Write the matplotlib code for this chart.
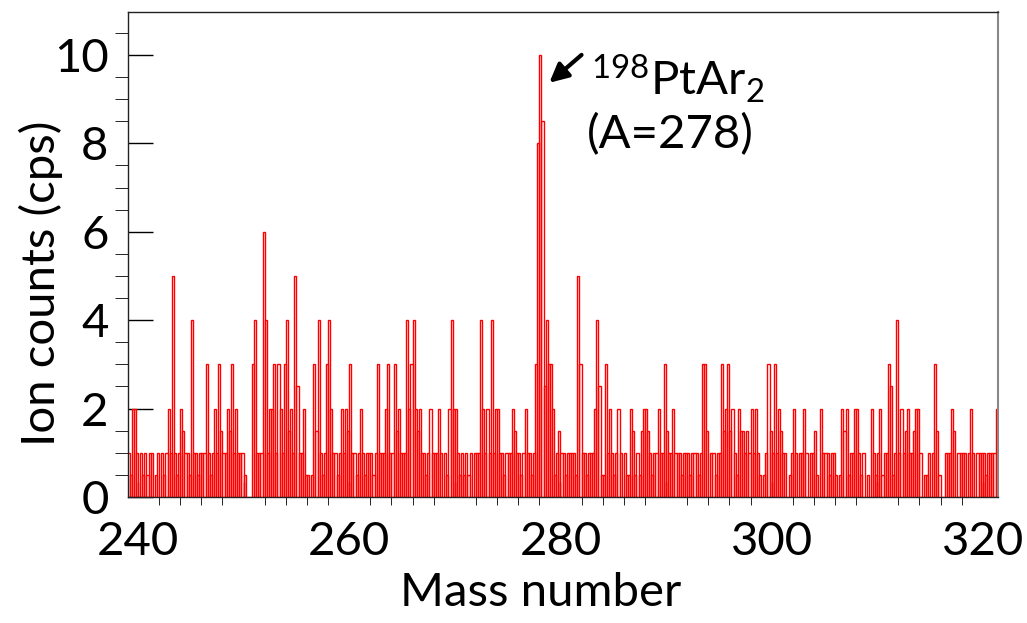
import numpy as np
import matplotlib
matplotlib.use("Agg")
import matplotlib.pyplot as plt
from matplotlib.ticker import MultipleLocator

plt.rcParams['font.family'] = ['Lato', 'DejaVu Sans']
plt.rcParams['mathtext.fontset'] = 'custom'
plt.rcParams['mathtext.rm'] = 'Lato'
plt.rcParams['mathtext.it'] = 'Lato:italic'
plt.rcParams['mathtext.bf'] = 'Lato:bold'

# ion counts (cps) in 0.2 mass-unit bins, first bin starts at 239.0
# one row = one mass unit (5 bins)
bin_width = 0.2
first_edge = 239.0

cps_239_259 = [
    1, 0.5, 2, 2, 1,        # 239
    0, 1, 0.5, 1, 0.5,      # 240
    1, 1, 0, 0.5, 1,        # 241
    0, 1, 0.5, 1, 2,        # 242
    1, 5, 1, 0.5, 1,        # 243
    2, 1.5, 1, 1, 0.5,      # 244
    4, 1, 1, 0.5, 1,        # 245
    1, 1, 3, 1, 0.5,        # 246
    1, 2, 1, 3, 1.5,        # 247
    1, 1, 2, 1.5, 3,        # 248
    1, 2, 1, 1, 1,          # 249
    0.5, 0, 0, 0, 3,        # 250
    4, 1, 1, 1, 6,          # 251
    4, 1, 2, 2, 3,          # 252
    1, 3, 2, 1, 3,          # 253
    4, 1.5, 2, 1, 5,        # 254
    2.5, 1, 1, 2, 0.5,      # 255
    0.5, 0, 0.5, 3, 1.5,    # 256
    4, 1, 0.5, 1, 3,        # 257
    4, 2, 1, 1, 0.5,        # 258
]
cps_259_279 = [
    1, 2, 1, 2, 1.5,        # 259
    3, 1, 1, 0.5, 1,        # 260
    2, 1, 0.5, 1, 1,        # 261
    1, 0.5, 1, 3, 1,        # 262
    1, 1, 2, 3, 1,          # 263
    1, 3, 1.5, 2, 1,        # 264
    1, 1, 4, 2, 3,          # 265
    4, 2, 1.5, 2, 1,        # 266
    1, 0.5, 1, 2, 1,        # 267
    1, 1, 2, 1, 0,          # 268
    1, 0.5, 2, 4, 2,        # 269
    2, 1, 0.5, 1, 0.5,      # 270
    1, 0.5, 1, 0, 1,        # 271
    1, 1, 4, 2, 1,          # 272
    2, 1, 4, 1, 2,          # 273
    2, 1, 1, 0.5, 1,        # 274
    1, 1, 2, 1.5, 1,        # 275
    1, 0.5, 1, 2, 1,        # 276
    1, 0.5, 1, 3, 8,        # 277
    10, 8.5, 2.5, 4, 3,     # 278
]
cps_279_299 = [
    3, 2, 0.5, 1, 1.5,      # 279
    1, 1, 0.5, 1, 1,        # 280
    1, 1, 0.5, 5, 3,        # 281
    1, 1, 0.5, 1, 1,        # 282
    1, 2, 4, 2.5, 0.5,      # 283
    0.5, 3, 1, 2, 1,        # 284
    0.5, 1, 2, 1, 0,        # 285
    1, 0.5, 0.5, 2, 1.5,    # 286
    0.5, 1, 0.5, 1.5, 2,    # 287
    2, 1.5, 1, 0.5, 1,      # 288
    1, 2, 1, 1, 3,          # 289
    1.5, 1, 1, 2, 1,        # 290
    1, 1, 0.5, 1, 1,        # 291
    1, 0.5, 1, 1, 1,        # 292
    0.5, 1, 3, 3, 1.5,      # 293
    0, 1, 1, 0.5, 1,        # 294
    1, 3, 1.5, 2, 3,        # 295
    1.5, 2, 1, 0.5, 2,      # 296
    1.5, 1.5, 1, 1.5, 1,    # 297
    2, 1, 2, 1, 0.5,        # 298
]
cps_299_321 = [
    0, 0.5, 1, 3, 1.5,      # 299
    1, 3, 1, 2, 1.5,        # 300
    1, 1, 0, 0.5, 1,        # 301
    2, 1, 0, 1, 1,          # 302
    2, 1, 0, 1, 1,          # 303
    1.5, 0.5, 0, 2, 1,      # 304
    1, 1, 0.5, 1, 1,        # 305
    0.5, 0, 0.5, 2, 1.5,    # 306
    2, 0.5, 1, 1, 2,        # 307
    2, 1, 0.5, 1, 0,        # 308
    0.5, 0, 2, 1, 0.5,      # 309
    1, 2, 0.5, 1, 1,        # 310
    3, 2.5, 0.5, 1, 4,      # 311
    1, 2, 1, 1.5, 2,        # 312
    1, 1, 1.5, 2, 2,        # 313
    1, 0, 0.5, 0.5, 1,      # 314
    0, 1, 3, 1.5, 0.5,      # 315
    0, 0, 1, 1, 1,          # 316
    2, 1.5, 0, 1, 1,        # 317
    1, 1, 0, 1, 2,          # 318
    1, 0, 1, 1, 1,          # 319
    1, 0.5, 1, 1, 1,        # 320
    1, 2,                   # 321
]

x_major = [240, 250, 260, 270, 280, 290, 300, 310, 320]
x_labels = ["240", "", "260", "", "280", "", "300", "", "320"]
y_major = [0, 2, 4, 6, 8, 10]

counts = np.array(cps_239_259 + cps_259_279 + cps_279_299 + cps_299_321)
left_edges = first_edge + bin_width * np.arange(len(counts))

fig = plt.figure(figsize=(10.27, 6.23), dpi=100)
ax = fig.add_axes([0.1246, 0.2022, 0.8472, 0.7785])

# every bin drawn as an open bar down to zero
ax.bar(left_edges, counts, width=bin_width, align="edge", fill=False,
       edgecolor="#ff0000", linewidth=1.0, zorder=2)

ax.set_xlim(239.05, 321.44)
ax.set_ylim(0, 10.97)
ax.set_axisbelow(True)

ax.set_xticks(x_major)
ax.set_xticklabels(x_labels)
ax.xaxis.set_minor_locator(MultipleLocator(2))
ax.set_yticks(y_major)
ax.yaxis.set_minor_locator(MultipleLocator(0.5))

ax.tick_params(axis="both", labelsize=34, direction="in", color="black", width=1)
ax.tick_params(axis="x", which="major", length=11, pad=17)
ax.tick_params(axis="x", which="minor", length=6)
ax.tick_params(axis="y", which="major", length=18, pad=14)
ax.tick_params(axis="y", which="minor", length=9.5)

for side in ["left", "top", "bottom"]:
    ax.spines[side].set_color("#222222")
    ax.spines[side].set_linewidth(1)
ax.spines["right"].set_color("#888888")
ax.spines["right"].set_linewidth(1.5)

ax.set_xlabel("Mass number", fontsize=34)
ax.set_ylabel("Ion counts (cps)", fontsize=34)
ax.xaxis.set_label_coords(0.474, -0.155)
ax.yaxis.set_label_coords(-0.075, 0.44)

ax.annotate("", xy=(278.95, 9.37), xytext=(282.0, 10.0),
            arrowprops=dict(arrowstyle="-|>", lw=3, color="black",
                            mutation_scale=28, shrinkA=0, shrinkB=0))
ax.text(282.9, 9.1, r"$^{198}$PtAr$_2$", fontsize=34, ha="left", va="baseline")
ax.text(282.5, 7.9, "(A=278)", fontsize=34, ha="left", va="baseline")

fig.savefig("out.png", dpi=100)
